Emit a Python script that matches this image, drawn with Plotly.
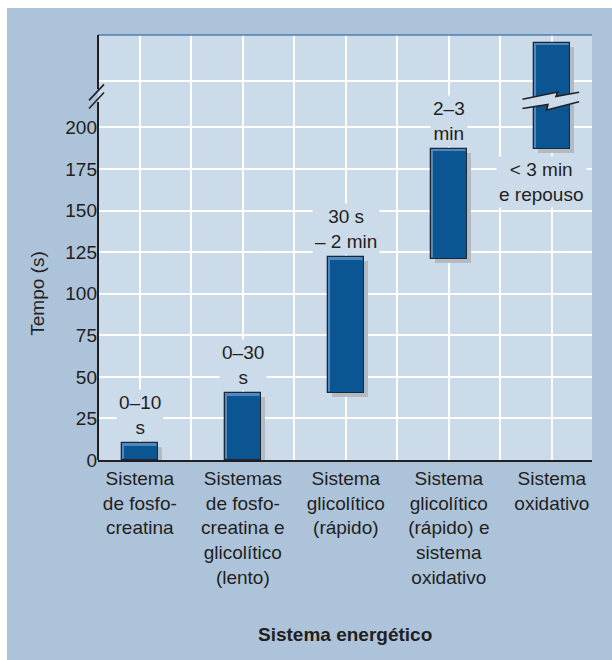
import plotly.graph_objects as go

# Energy systems and the time window each one covers (seconds on the y axis)
categories = [
    "Sistema<br>de fosfo-<br>creatina",
    "Sistemas<br>de fosfo-<br>creatina e<br>glicolítico<br>(lento)",
    "Sistema<br>glicolítico<br>(rápido)",
    "Sistema<br>glicolítico<br>(rápido) e<br>sistema<br>oxidativo",
    "Sistema<br>oxidativo",
]
range_start = [0, 0, 40, 121, 187]
range_end = [10, 40, 122, 187, 251]
range_labels = ["0–10<br>s", "0–30<br>s", "30 s<br>– 2 min", "2–3<br>min", "< 3 min<br>e repouso"]

y_tick_values = [0, 25, 50, 75, 100, 125, 150, 175, 200]
y_tick_labels = ["0", "25", "50", "75", "100", "125", "150", "175", "200"]

# colours
OUTER_BG = "#adc3da"
PLOT_BG = "#cbdbe9"
BAR_FILL = "#0a5592"
BAR_EDGE = "#1b2838"
BAR_SHINE = "#4f89bd"
SHADOW = "#b3bac2"
INK = "#231f20"
FONT = "Liberation Sans, Arial, Helvetica, sans-serif"
FS = 19

# layout geometry
W, H = 612, 660
M_L, M_R, M_T, M_B = 98, 20, 35, 200
X_RANGE = [-0.406, 4.39]
Y_RANGE = [0, 255.6]
plot_w = W - M_L - M_R
plot_h = H - M_T - M_B
px_x = plot_w / (X_RANGE[1] - X_RANGE[0])   # pixels per x unit
px_y = plot_h / (Y_RANGE[1] - Y_RANGE[0])   # pixels per y unit

idx = list(range(len(categories)))
lengths = [e - s for s, e in zip(range_start, range_end)]
bar_w = 0.347

fig = go.Figure()

# drop shadow, shifted right and down
fig.add_trace(go.Bar(
    x=idx, y=lengths, base=[s - 4 / px_y for s in range_start],
    width=bar_w, offset=-bar_w / 2 + 4 / px_x,
    marker=dict(color=SHADOW, line=dict(width=0)),
    hoverinfo="skip", showlegend=False,
))
# bar body with outline (its fill shows as the bevel highlight)
fig.add_trace(go.Bar(
    x=idx, y=lengths, base=range_start, width=bar_w,
    marker=dict(color=BAR_SHINE, line=dict(color=BAR_EDGE, width=1.3)),
    hoverinfo="skip", showlegend=False,
))
# main fill, inset from the top-left edges
hx, rx, ty, by = 2.4 / px_x, 1.0 / px_x, 2.4 / px_y, 1.0 / px_y
fig.add_trace(go.Bar(
    x=idx, y=[l - ty - by for l in lengths], base=[s + by for s in range_start],
    width=bar_w - hx - rx, offset=-bar_w / 2 + hx,
    marker=dict(color=BAR_FILL, line=dict(width=0)),
    hoverinfo="skip", showlegend=False,
))

# range labels above each bar; the last one sits under the broken bar
for i, txt in enumerate(range_labels):
    last = i == len(range_labels) - 1
    fig.add_annotation(
        x=idx[i], y=range_start[i] if last else range_end[i],
        xref="x", yref="y", text=txt, showarrow=False,
        xanchor="center", yanchor="top" if last else "bottom",
        yshift=-7 if last else 2, xshift=-10 if last else 0,
        bgcolor=PLOT_BG, borderpad=2,
        font=dict(family=FONT, size=FS, color=INK),
    )

# axis titles
fig.add_annotation(
    x=-60 / plot_w, y=100, xref="paper", yref="y", text="Tempo (s)",
    xanchor="center", yanchor="middle",
    textangle=-90, showarrow=False, font=dict(family=FONT, size=FS, color=INK),
)
fig.add_annotation(
    x=0.5, y=-(634 - (M_T + plot_h)) / plot_h, xref="paper", yref="paper",
    xanchor="center", yanchor="middle",
    text="<b>Sistema energético</b>", showarrow=False,
    font=dict(family=FONT, size=FS, color=INK),
)

shapes = []
# white strips framing the panel
shapes.append(dict(type="rect", xref="paper", yref="paper", layer="below",
                   x0=-M_L / plot_w, x1=(W - M_L) / plot_w,
                   y0=1 + (M_T - 8) / plot_h, y1=1 + M_T / plot_h + 0.01,
                   fillcolor="white", line=dict(width=0)))
shapes.append(dict(type="rect", xref="paper", yref="paper", layer="below",
                   x0=-M_L / plot_w - 0.01, x1=-(M_L - 7) / plot_w,
                   y0=-M_B / plot_h - 0.01, y1=1 + M_T / plot_h + 0.01,
                   fillcolor="white", line=dict(width=0)))
# blue top edge of the plotting area
shapes.append(dict(type="line", xref="paper", yref="paper", x0=0, x1=1, y0=1, y1=1,
                   line=dict(color="#4d7fb1", width=1.5)))

# y axis drawn in two pieces with a break
brk_lo, brk_hi = 215.3, 222.9
shapes.append(dict(type="line", xref="paper", yref="y", x0=0, x1=0, y0=0, y1=brk_lo,
                   line=dict(color=INK, width=2)))
shapes.append(dict(type="line", xref="paper", yref="y", x0=0, x1=0, y0=brk_hi, y1=Y_RANGE[1],
                   line=dict(color=INK, width=2)))
for yc in (brk_lo - 0.3, brk_hi - 3.0):
    shapes.append(dict(type="line", xref="paper", yref="y",
                       x0=-9 / plot_w, x1=6 / plot_w, y0=yc - 3.6, y1=yc + 3.6 + 2.4,
                       line=dict(color=INK, width=1.6)))

# lightning-shaped cut across the tall bar
cx = idx[-1]
up = [(-0.285, 217.0), (0.058, 221.3), (0.040, 218.6), (0.265, 221.2)]
lo = [(-0.285, 211.4), (-0.038, 213.8), (-0.050, 210.5), (0.265, 215.4)]
band = up + lo[::-1]
path = "M " + " L ".join(f"{cx + dx},{yv}" for dx, yv in band) + " Z"
shapes.append(dict(type="path", xref="x", yref="y", path=path,
                   fillcolor=PLOT_BG, line=dict(width=0)))
for pts in (up, lo):
    p = "M " + " L ".join(f"{cx + dx},{yv}" for dx, yv in pts)
    shapes.append(dict(type="path", xref="x", yref="y", path=p,
                       line=dict(color=INK, width=1.6)))

# x gridlines at each bar and midway between bars
x_tick_vals = [v / 2 for v in range(0, 2 * len(categories) - 1)]
x_tick_text = [categories[int(v)] if v == int(v) else "" for v in x_tick_vals]

fig.update_layout(
    width=W, height=H,
    margin=dict(l=M_L, r=M_R, t=M_T, b=M_B, pad=0),
    paper_bgcolor=OUTER_BG, plot_bgcolor=PLOT_BG,
    barmode="overlay", bargap=0,
    font=dict(family=FONT, size=FS, color=INK),
    shapes=shapes,
    xaxis=dict(
        range=X_RANGE, tickmode="array", tickvals=x_tick_vals, ticktext=x_tick_text,
        showgrid=True, gridcolor="white", gridwidth=1.6, zeroline=False,
        showline=True, linecolor=INK, linewidth=2, ticks="",
        tickfont=dict(family=FONT, size=FS, color=INK), fixedrange=True,
    ),
    yaxis=dict(
        range=Y_RANGE, tickmode="array",
        tickvals=y_tick_values + [228], ticktext=y_tick_labels + [""],
        showgrid=True, gridcolor="white", gridwidth=1.6, zeroline=False,
        showline=False, ticks="",
        tickfont=dict(family=FONT, size=FS, color=INK), fixedrange=True,
    ),
)

fig.write_html("out.html")
